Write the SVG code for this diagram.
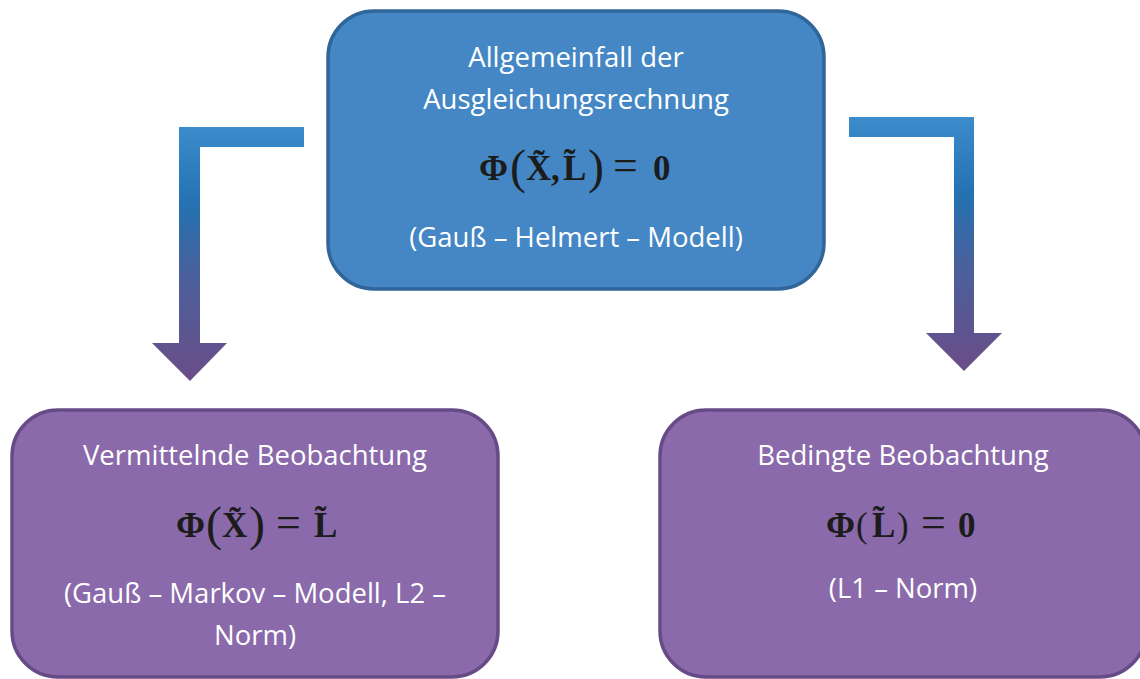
<svg xmlns="http://www.w3.org/2000/svg" width="1140" height="679" viewBox="0 0 1140 679">
<defs>
<linearGradient id="ag" x1="0" y1="0" x2="0" y2="1">
<stop offset="0" stop-color="#3c8bcb"/>
<stop offset="0.3" stop-color="#2472b1"/>
<stop offset="0.6" stop-color="#4b5f9b"/>
<stop offset="1" stop-color="#6b4d88"/>
</linearGradient>
<style>
.blue{fill:#4587c5;stroke:#2f6599;stroke-width:3.5}
.purple{fill:#8a6aab;stroke:#674b87;stroke-width:3.5}
.t{font-family:"Open Sans","Liberation Sans",sans-serif;font-size:27.5px;fill:#ffffff;text-anchor:middle}
.f{font-family:"Liberation Serif",serif;font-weight:bold;font-size:35px;fill:#1c1c1c}
.fp{font-family:"Liberation Serif",serif;font-weight:normal;font-size:48px}
.fs{font-family:"Liberation Serif",serif;font-weight:normal;font-size:35px}
.eq{font-family:"Liberation Serif",serif;font-weight:normal;font-size:44px}
</style>
</defs>
<g id="connectors">
<path d="M304,127 H179 V343 H152 L190,381 L227,343 H200 V147 H304 Z" fill="url(#ag)"/>
<path d="M849,117 H974 V333 H1002 L964,371 L926,333 H954 V137 H849 Z" fill="url(#ag)"/>
</g>
<g id="node-top">
<rect class="blue" x="328" y="11" width="496" height="278" rx="46" ry="46"/>
<text class="t" x="576" y="67">Allgemeinfall der</text>
<text class="t" x="576" y="109">Ausgleichungsrechnung</text>
<text class="f" y="180"><tspan x="479">Φ</tspan><tspan class="fp" x="510" y="183">(</tspan><tspan x="526" y="180">X̃</tspan><tspan x="551">,</tspan><tspan x="563">L̃</tspan><tspan class="fp" x="588" y="183">)</tspan><tspan class="eq" x="613" y="180">=</tspan><tspan x="653">0</tspan></text>
<text class="t" x="576" y="247">(Gauß – Helmert – Modell)</text>
</g>
<g id="node-left">
<rect class="purple" x="12" y="410" width="486" height="267" rx="46" ry="46"/>
<text class="t" x="255" y="465">Vermittelnde Beobachtung</text>
<text class="f" y="537"><tspan x="176">Φ</tspan><tspan class="fp" x="206" y="540">(</tspan><tspan x="222" y="537">X̃</tspan><tspan class="fp" x="249" y="540">)</tspan><tspan class="eq" x="276" y="537">=</tspan><tspan x="314">L̃</tspan></text>
<text class="t" x="255" y="603">(Gauß – Markov – Modell, L2 –</text>
<text class="t" x="255" y="645">Norm)</text>
</g>
<g id="node-right">
<rect class="purple" x="660" y="410" width="486" height="267" rx="46" ry="46"/>
<text class="t" x="903" y="465">Bedingte Beobachtung</text>
<text class="f" y="537"><tspan x="826">Φ</tspan><tspan class="fs" x="856">(</tspan><tspan x="872">L̃</tspan><tspan class="fs" x="897">)</tspan><tspan class="eq" x="921">=</tspan><tspan x="958">0</tspan></text>
<text class="t" x="903" y="598">(L1 – Norm)</text>
</g>
</svg>
